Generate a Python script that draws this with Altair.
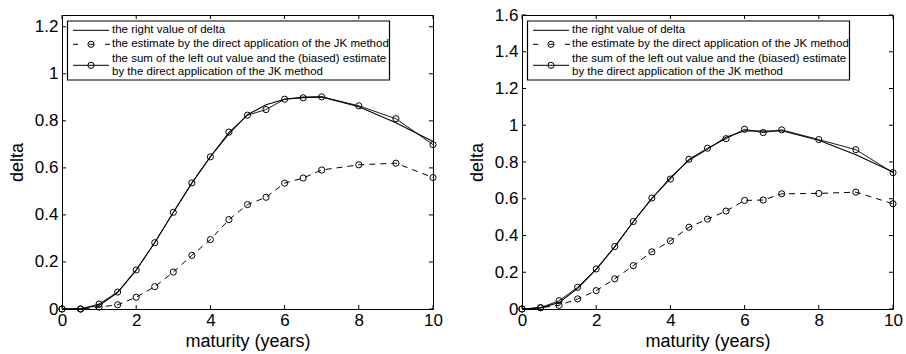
import altair as alt
import pandas as pd

# ---------------- data ----------------
maturity = [0, 0.5, 1, 1.5, 2, 2.5, 3, 3.5, 4, 4.5, 5, 5.5, 6, 6.5, 7, 8, 9, 10]

# left panel
left_right_value = [0, 0.002, 0.015, 0.07, 0.165, 0.283, 0.41, 0.535, 0.648, 0.746,
                    0.826, 0.868, 0.892, 0.901, 0.902, 0.86, 0.792, 0.712]
left_jk_estimate = [0, 0, 0.008, 0.018, 0.05, 0.095, 0.157, 0.228, 0.295, 0.38,
                    0.444, 0.475, 0.535, 0.557, 0.591, 0.613, 0.62, 0.559]
left_sum_estimate = [0, 0, 0.021, 0.072, 0.166, 0.282, 0.411, 0.536, 0.647, 0.752,
                     0.824, 0.848, 0.892, 0.898, 0.902, 0.864, 0.809, 0.699]

# right panel
right_right_value = [0, 0.006, 0.035, 0.112, 0.215, 0.338, 0.475, 0.6, 0.715, 0.81,
                     0.87, 0.935, 0.97, 0.968, 0.97, 0.918, 0.84, 0.745]
right_jk_estimate = [0, 0.007, 0.02, 0.055, 0.1, 0.164, 0.236, 0.311, 0.371, 0.445,
                     0.489, 0.533, 0.591, 0.593, 0.627, 0.629, 0.636, 0.573]
right_sum_estimate = [0, 0.007, 0.045, 0.118, 0.218, 0.34, 0.476, 0.604, 0.707, 0.815,
                      0.875, 0.927, 0.978, 0.96, 0.975, 0.922, 0.867, 0.742]

x_ticks = [0, 2, 4, 6, 8, 10]
left_y_ticks = [0, 0.2, 0.4, 0.6, 0.8, 1.0, 1.2]
right_y_ticks = [0, 0.2, 0.4, 0.6, 0.8, 1.0, 1.2, 1.4, 1.6]
left_y_max = 1.25
right_y_max = 1.6

legend_labels = [
    "the right value of delta",
    "the estimate by the direct application of the JK method",
    "the sum of the left out value and the (biased) estimate",
    "by the direct application of the JK method",
]
x_title = "maturity (years)"
y_title = "delta"

# ---------------- layout ----------------
W, H = 371, 294
FONT = "Liberation Sans"
TICK = 4


def one_row():
    return pd.DataFrame({"k": [0]})


def panel(right_vals, est_vals, sum_vals, y_ticks, y_max):
    df = pd.DataFrame({"maturity": maturity, "right": right_vals,
                       "est": est_vals, "sum": sum_vals})
    xs = alt.Scale(domain=[0, 10], nice=False, zero=False)
    ys = alt.Scale(domain=[0, y_max], nice=False, zero=False)
    x_axis = alt.Axis(values=x_ticks, title=x_title, ticks=False, domain=False,
                      grid=False, labelPadding=3, titlePadding=4, format="~r",
                      labelFlush=False)
    y_axis = alt.Axis(values=y_ticks, title=y_title, ticks=False, domain=False,
                      grid=False, labelPadding=4, titlePadding=8, format="~r")
    X = alt.X("maturity:Q", scale=xs, axis=x_axis)

    def Y(field):
        return alt.Y(f"{field}:Q", scale=ys, axis=y_axis)

    base = alt.Chart(df)
    est_line = base.mark_line(color="black", strokeWidth=1, strokeDash=[6, 5]).encode(x=X, y=Y("est"))
    est_pts = base.mark_point(shape="circle", filled=False, size=38, color="black",
                              strokeWidth=1, opacity=1).encode(x=X, y=Y("est"))
    right_line = base.mark_line(color="black", strokeWidth=1.1).encode(x=X, y=Y("right"))
    sum_line = base.mark_line(color="black", strokeWidth=0.9).encode(x=X, y=Y("sum"))
    sum_pts = base.mark_point(shape="circle", filled=False, size=38, color="black",
                              strokeWidth=1, opacity=1).encode(x=X, y=Y("sum"))

    # inward ticks on all four sides
    xt = alt.Chart(pd.DataFrame({"maturity": x_ticks}))
    yt = alt.Chart(pd.DataFrame({"val": y_ticks}))
    tick_style = dict(color="black", strokeWidth=1)
    xt_bottom = xt.mark_rule(**tick_style).encode(x=X, y=alt.value(H), y2=alt.value(H - TICK))
    xt_top = xt.mark_rule(**tick_style).encode(x=X, y=alt.value(0), y2=alt.value(TICK))
    yt_left = yt.mark_rule(**tick_style).encode(y=Y("val"), x=alt.value(0), x2=alt.value(TICK))
    yt_right = yt.mark_rule(**tick_style).encode(y=Y("val"), x=alt.value(W - TICK), x2=alt.value(W))

    # legend (drawn by hand, MATLAB style)
    box = alt.Chart(one_row()).mark_rect(fill="white", stroke="black", strokeWidth=1.2).encode(
        x=alt.value(5.5), x2=alt.value(327.5), y=alt.value(6), y2=alt.value(65))
    rows_y = [15.3, 29.3, 43.6, 57.0]
    sym3_y = 50.3
    lx1, lx2, lxc, tx = 11, 47, 29, 50
    leg_solid1 = alt.Chart(one_row()).mark_rule(color="black", strokeWidth=1).encode(
        x=alt.value(lx1), x2=alt.value(lx2), y=alt.value(rows_y[0]))
    leg_dash = alt.Chart(one_row()).mark_rule(color="black", strokeWidth=1, strokeDash=[5, 11]).encode(
        x=alt.value(lx1), x2=alt.value(lx2 + 1), y=alt.value(rows_y[1]))
    leg_dash_pt = alt.Chart(one_row()).mark_point(shape="circle", filled=False, size=38, color="black",
                                                  strokeWidth=1, opacity=1).encode(
        x=alt.value(lxc), y=alt.value(rows_y[1]))
    leg_solid3 = alt.Chart(one_row()).mark_rule(color="black", strokeWidth=1).encode(
        x=alt.value(lx1), x2=alt.value(lx2), y=alt.value(sym3_y))
    leg_pt3 = alt.Chart(one_row()).mark_point(shape="circle", filled=False, size=38, color="black",
                                              strokeWidth=1, opacity=1).encode(
        x=alt.value(lxc), y=alt.value(sym3_y))
    texts = [
        alt.Chart(one_row()).mark_text(align="left", baseline="middle", font=FONT,
                                       fontSize=11.5, color="black").encode(
            x=alt.value(tx), y=alt.value(ry), text=alt.value(lab))
        for ry, lab in zip(rows_y, legend_labels)
    ]

    return alt.layer(est_line, est_pts, right_line, sum_line, sum_pts,
                     xt_bottom, xt_top, yt_left, yt_right,
                     box, leg_solid1, leg_dash, leg_dash_pt, leg_solid3, leg_pt3,
                     *texts).properties(width=W, height=H)


left = panel(left_right_value, left_jk_estimate, left_sum_estimate, left_y_ticks, left_y_max)
right = panel(right_right_value, right_jk_estimate, right_sum_estimate, right_y_ticks, right_y_max)

chart = alt.hconcat(left, right, spacing=89, bounds="flush").properties(
    padding={"left": 7, "top": 5, "right": 2, "bottom": 2},
    background="white",
).configure_view(stroke="black", strokeWidth=1).configure_axis(
    labelFont=FONT, labelFontSize=17, labelColor="black",
    titleFont=FONT, titleFontSize=18, titleColor="black", titleFontWeight="normal",
)

chart.save("out.html", embed_options={"renderer": "svg", "actions": False})
